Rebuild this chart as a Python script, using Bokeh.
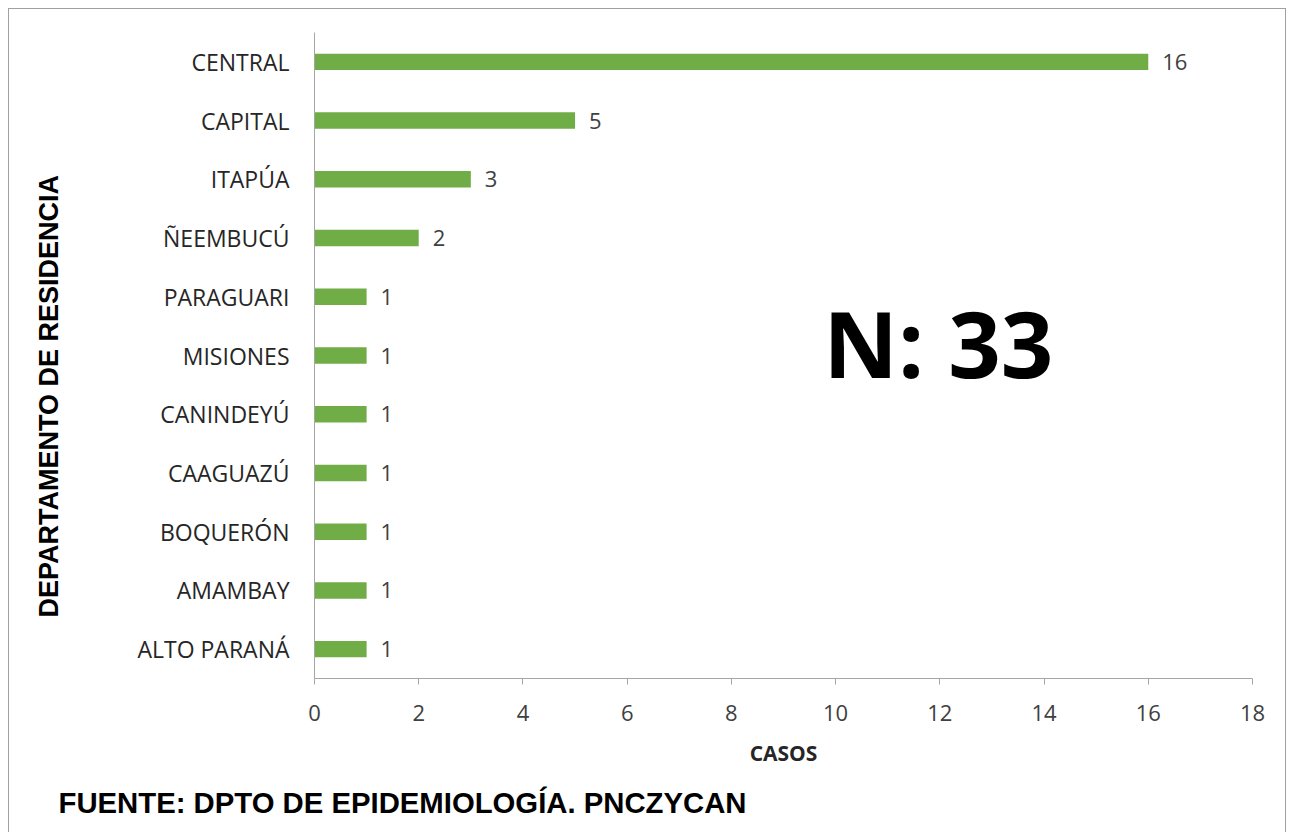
import math
from bokeh.plotting import figure
from bokeh.models import (FactorRange, Range1d, Label, FixedTicker, ColumnDataSource,
                          Title, CategoricalAxis)
from bokeh.core.properties import value
from bokeh.embed import file_html
from bokeh.resources import INLINE

# ---- data ----
departamentos = ["CENTRAL", "CAPITAL", "ITAPÚA", "ÑEEMBUCÚ", "PARAGUARI", "MISIONES",
                 "CANINDEYÚ", "CAAGUAZÚ", "BOQUERÓN", "AMAMBAY", "ALTO PARANÁ"]
casos = [16, 5, 3, 2, 1, 1, 1, 1, 1, 1, 1]
x_ticks = [0, 2, 4, 6, 8, 10, 12, 14, 16, 18]
x_title = "CASOS"
y_title = "DEPARTAMENTO DE RESIDENCIA"
total_text = "N: 33"
source_text = "FUENTE: DPTO DE EPIDEMIOLOGÍA. PNCZYCAN"

GREEN = "#70AD47"
AXIS_GRAY = "#a6a6a6"
FONT = "Open Sans"

factors = departamentos[::-1]
src = ColumnDataSource(dict(dep=departamentos, casos=casos,
                            lbl=[str(c) for c in casos]))

p = figure(width=1278, height=826,
           y_range=FactorRange(factors=factors),
           x_range=Range1d(0, 18),
           output_backend="svg", toolbar_location=None,
           min_border_left=305, min_border_right=35,
           min_border_top=23, min_border_bottom=157)
p.styles = {"border": "1px solid #a0a0a0", "margin-left": "8px", "margin-top": "8px"}
p.outline_line_color = None
p.xgrid.visible = False
p.ygrid.visible = False
p.background_fill_color = "white"
p.border_fill_color = "white"

p.hbar(y="dep", right="casos", left=0, height=0.28, source=src,
       fill_color=GREEN, line_color=None)
p.text(x="casos", y="dep", text="lbl", source=src, x_offset=14,
       text_baseline="middle", text_align="left",
       text_font=value(FONT), text_font_size="22px", text_color="#404040")

# x axis
xa = p.xaxis[0]
xa.ticker = FixedTicker(ticks=x_ticks)
xa.axis_line_color = AXIS_GRAY
xa.major_tick_line_color = AXIS_GRAY
xa.major_tick_out = 6
xa.major_tick_in = 0
xa.minor_tick_line_color = None
xa.major_label_text_font = FONT
xa.major_label_text_font_size = "22px"
xa.major_label_text_color = "#404040"
xa.major_label_standoff = 20
xa.axis_label = x_title
xa.axis_label_text_font = FONT
xa.axis_label_text_font_size = "21px"
xa.axis_label_text_font_style = "bold"
xa.axis_label_text_color = "#262626"
xa.axis_label_standoff = 15

# y axis
ya = p.yaxis[0]
ya.axis_line_color = AXIS_GRAY
ya.major_tick_out = 0
ya.major_tick_in = 0
ya.minor_tick_line_color = None
ya.major_label_text_font = FONT
ya.major_label_text_font_size = "23px"
ya.major_label_text_color = "#262626"
ya.major_label_standoff = 25

# invisible spacer axis: only reserves room between the y axis and its title
p.extra_y_ranges = {"sp": FactorRange(factors=["sp"])}
left_spacer = CategoricalAxis(y_range_name="sp", major_label_overrides={"sp": ""},
                              major_tick_out=71, major_tick_in=0,
                              major_label_standoff=0,
                              major_label_text_font_size="0px",
                              major_tick_line_color=None,
                              minor_tick_line_color=None, axis_line_color=None)
p.add_layout(left_spacer, "left")

# titles outside the frame
p.add_layout(Title(text=y_title, align="left", offset=61, standoff=0,
                   text_font="Liberation Sans", text_font_size="27px",
                   text_font_style="bold", text_color="black"), "left")
p.add_layout(Title(text=source_text, align="left", offset=-256, standoff=28,
                   text_font="Liberation Sans", text_font_size="29.3px",
                   text_font_style="bold", text_color="black"), "below")

# big total annotation
p.add_layout(Label(x=11.97, y=5.72, text=total_text, text_align="center",
                   text_baseline="middle", text_font=FONT,
                   text_font_size="92px", text_font_style="bold",
                   text_color="black"))

open("out.html", "w").write(file_html(p, INLINE))
